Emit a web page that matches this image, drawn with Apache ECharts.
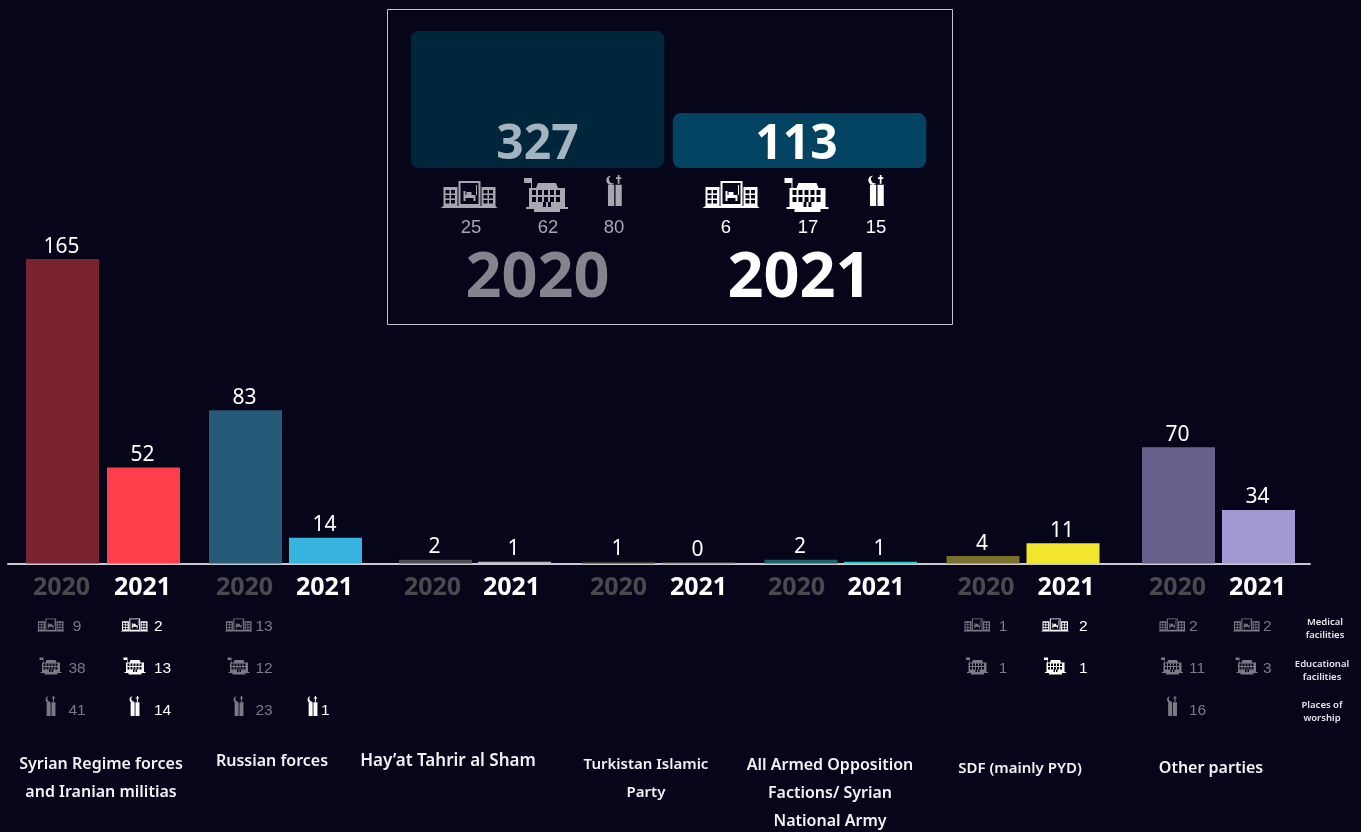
<!DOCTYPE html>
<html>
<head>
<meta charset="utf-8">
<title>Attacks on vital civilian facilities</title>
<style>
  html, body { margin: 0; padding: 0; background: #06051a; }
  #chart { width: 1361px; height: 832px; }
</style>
<script src="https://cdn.jsdelivr.net/npm/echarts@6/dist/echarts.min.js"></script>
</head>
<body>
<div id="chart"></div>
<script>
// ---- data ----
const years = ["2020", "2021"];
const categories = [
  "Syrian Regime forces\nand Iranian militias",
  "Russian forces",
  "Hay\u2019at Tahrir al Sham",
  "Turkistan Islamic\nParty",
  "All Armed Opposition\nFactions/ Syrian\nNational Army",
  "SDF (mainly PYD)",
  "Other parties"
];
const rowNames = ["Medical\nfacilities", "Educational\nfacilities", "Places of\nworship"];

const values2020 = [165, 83, 2, 1, 2, 4, 70];
const values2021 = [52, 14, 1, 0, 1, 11, 34];
// the source draws these bars shorter than their printed number, so heights are kept apart from labels
const barHeights2020 = [165, 83, 2, 1, 2, 4, 63];
const barHeights2021 = [52, 14, 1, 0, 1, 11, 29];

const medical2020 = [9, 13, null, null, null, 1, 2];
const medical2021 = [2, null, null, null, null, 2, 2];
const educational2020 = [38, 12, null, null, null, 1, 11];
const educational2021 = [13, null, null, null, null, 1, 3];
const worship2020 = [41, 23, null, null, null, null, 16];
const worship2021 = [14, 1, null, null, null, null, null];

const totals = [327, 113];
const totalBarHeights = [327, 131];
const totalMedical = [25, 6];
const totalEducational = [62, 17];
const totalWorship = [80, 15];

// ---- layout and colours ----
const bg = "#06051a";
const dimText = "#7b7a84";
const yearGrey = "#4a4a4e";
const barColors = [
  ["#7a2330", "#fd3f4c"],
  ["#255a78", "#37b3df"],
  ["#4d4c52", "#b9b8bd"],
  ["#3c332f", "#7f6c5b"],
  ["#1b6468", "#2cc6c6"],
  ["#78702c", "#f2e52e"],
  ["#68608a", "#a498d3"]
];
const groupCenters = [
  [62.5, 143.5], [245.5, 325.5], [435.5, 514.5], [618.5, 698.5],
  [801, 880.5], [983, 1063], [1178.5, 1258.5]
];
// year labels do not sit quite under their bars in the source
const yearLabelShift = [-1, -1, -3, 0, -4.5, 3, -1];
const titleSpots = [[101, 750.5], [272, 747.5], [448, 747.5], [646, 750.5], [830, 751.5], [1020, 754.5], [1211, 754.5]];
const titleSizes = [16, 16, 17, 15, 16, 15, 16];
// per group and year: icon offset, text offset, text align
const cellOffsets = [
  [[-12, 14.5, "center"], [-9, 10.5, "left"]],
  [[-7, 10, "left"], [-13, -4.5, "left"]],
  [[0, 0, "left"], [0, 0, "left"]],
  [[0, 0, "left"], [0, 0, "left"]],
  [[0, 0, "left"], [0, 0, "left"]],
  [[-6, 20, "center"], [-8, 16, "left"]],
  [[-6.5, 10.5, "left"], [-12, 4.5, "left"]]
];

// small icon paths, holes are wound the other way
const box = (x, y, w, h) => `M${x} ${y}h${w}v${h}h${-w}z`;
const hole = (x, y, w, h) => `M${x} ${y}v${h}h${w}v${-h}z`;
function windows(x, y, cols, rows, w, h, gap) {
  let d = "";
  for (let c = 0; c < cols; c++) {
    for (let r = 0; r < rows; r++) {
      d += hole(x + c * (w + gap), y + r * (h + gap), w, h);
    }
  }
  return d;
}
const medicalIcon =
  box(3, 6, 14, 19) + windows(5, 9, 2, 3, 4, 3.5, 1.5) +
  box(41, 6, 14, 19) + windows(43, 9, 2, 3, 4, 3.5, 1.5) +
  box(18, 0, 22, 25) + hole(20, 2, 18, 21) +
  box(23, 14, 12, 3) + box(23, 10, 2, 10) + box(33, 14, 2, 6) + box(26, 11, 5, 3) + box(35.5, 4, 1, 10) +
  "M0 27L3 25L55 25L57 27z";
const educationIcon =
  box(0, 0, 7, 5) + box(7, 0, 1, 11) +
  "M14 5L32 5L34 10L12 10z" +
  box(5, 10, 36, 19) + windows(8, 12, 5, 2, 4, 5, 2) + hole(19, 24, 8, 5) + box(22, 24, 2, 5) +
  box(2, 29, 42, 2) + box(10, 31, 26, 3);
const worshipIcon =
  box(0, 11, 7, 24) + box(8.5, 11, 7, 24) +
  box(11, 0, 2, 10) + box(9, 2.5, 6, 2) +
  "M4 1A5 5 0 1 0 7 9A4 4 0 1 1 4 1z";
const icons = [
  { path: medicalIcon, w: 57, h: 27 },
  { path: educationIcon, w: 45, h: 34 },
  { path: worshipIcon, w: 15.5, h: 35 }
];

// ---- option pieces ----
const grids = [];
const xAxes = [];
const yAxes = [];
const series = [];
const titles = [];

function addAxes(grid, x, y) {
  grids.push(grid);
  xAxes.push(Object.assign({ gridIndex: grids.length - 1 }, x));
  yAxes.push(Object.assign({ gridIndex: grids.length - 1 }, y));
  return grids.length - 1;
}

// baseline running under all groups
addAxes(
  { left: 8, width: 1302, top: 194.5, height: 369 },
  {
    type: "value", min: 0, max: 1,
    axisLine: { show: true, onZero: false, lineStyle: { color: "#c9c9cf", width: 2 } },
    axisTick: { show: false }, axisLabel: { show: false }, splitLine: { show: false }
  },
  { type: "value", min: 0, max: 1, show: false }
);

function yearLabelColor(value) {
  return value === "2020" ? yearGrey : "#ffffff";
}

categories.forEach((name, g) => {
  const c = groupCenters[g];
  const step = c[1] - c[0];
  const shift = yearLabelShift[g];
  const barGrid = addAxes(
    { left: c[0] - step / 2, width: step * 2, top: 194.5, height: 369 },
    {
      type: "category", data: years,
      axisLine: { show: false }, axisTick: { show: false },
      axisLabel: {
        margin: 12, fontFamily: "Noto Sans", fontWeight: "bold", fontSize: 25, color: yearLabelColor,
        padding: shift < 0 ? [0, -2 * shift, 0, 0] : [0, 0, 0, 2 * shift]
      }
    },
    { type: "value", min: 0, max: 200, show: false }
  );
  const printed = [values2020[g], values2021[g]];
  series.push({
    type: "bar",
    xAxisIndex: barGrid,
    yAxisIndex: barGrid,
    barWidth: 73,
    barMinHeight: 1,
    data: [barHeights2020[g], barHeights2021[g]],
    itemStyle: { color: (p) => barColors[g][p.dataIndex] },
    label: {
      show: true,
      position: "top",
      distance: 2,
      offset: [-1, 0],
      color: "#ffffff",
      fontFamily: "Noto Sans",
      fontSize: 21,
      formatter: (p) => String(printed[p.dataIndex])
    }
  });

  // icon and count rows under the bars
  const tableGrid = addAxes(
    { left: c[0] - step / 2, width: step * 2, top: 605, height: 126 },
    { type: "category", data: years, show: false },
    { type: "category", data: [0, 1, 2], inverse: true, show: false }
  );
  const rows = [
    [medical2020[g], medical2021[g]],
    [educational2020[g], educational2021[g]],
    [worship2020[g], worship2021[g]]
  ];
  const cells = [];
  rows.forEach((r, rowIndex) => {
    r.forEach((v, yearIndex) => {
      if (v !== null) cells.push([yearIndex, rowIndex, v]);
    });
  });
  series.push({
    type: "custom",
    xAxisIndex: tableGrid,
    yAxisIndex: tableGrid,
    clip: false,
    silent: true,
    data: cells,
    renderItem: (params, api) => {
      const year = api.value(0);
      const row = api.value(1);
      const p = api.coord([year, row]);
      const off = cellOffsets[g][year];
      // other parties 2021 is greyed out in the source
      const col = year === 1 && g !== 6 ? "#ffffff" : dimText;
      const icon = icons[row];
      const k = row === 0 ? 0.49 : row === 1 ? 0.5 : 0.64;
      const rowLift = [-1, -2, -4][row];
      return {
        type: "group",
        children: [
          {
            type: "path",
            shape: {
              pathData: icon.path,
              layout: "center",
              x: p[0] + off[0] - (icon.w * k) / 2,
              y: p[1] + rowLift - (icon.h * k) / 2,
              width: icon.w * k,
              height: icon.h * k
            },
            style: { fill: col }
          },
          {
            type: "text",
            style: {
              text: String(api.value(2)),
              x: p[0] + off[1],
              y: p[1] + 1,
              fill: col,
              font: "15.5px 'Liberation Sans'",
              textAlign: off[2],
              textVerticalAlign: "middle"
            }
          }
        ]
      };
    }
  });

  titles.push({
    text: name,
    left: titleSpots[g][0],
    top: titleSpots[g][1],
    textAlign: "center",
    padding: 0,
    textStyle: {
      color: "#f2f2f4", fontFamily: "Noto Sans", fontWeight: 600, fontSize: titleSizes[g], lineHeight: 28
    }
  });
});

// row names at the right
rowNames.forEach((name, i) => {
  titles.push({
    text: name,
    left: i === 0 ? 1325 : 1322,
    top: 616 + i * 41.5,
    textAlign: "center",
    padding: 0,
    textStyle: {
      color: "#e6e6ea", fontFamily: "Noto Sans", fontWeight: 600, fontSize: 9.5, lineHeight: 13
    }
  });
});

// totals panel
const panelGrid = addAxes(
  { left: 406.5, width: 524, top: 31, height: 137 },
  {
    type: "category", data: years,
    axisLine: { show: false }, axisTick: { show: false },
    axisLabel: {
      margin: 80, fontFamily: "Noto Sans", fontWeight: "bold", fontSize: 63,
      color: (v) => (v === "2020" ? "#85848e" : "#ffffff")
    }
  },
  { type: "value", min: 0, max: 327, show: false }
);
const totalColors = ["#00263c", "#034362"];
const totalTextColors = ["#a3b3bf", "#ffffff"];
const totalLabelDx = [0, -3];
series.push({
  type: "bar",
  xAxisIndex: panelGrid,
  yAxisIndex: panelGrid,
  barWidth: 253.5,
  data: totalBarHeights.map((v, i) => ({
    value: v,
    itemStyle: { color: totalColors[i] },
    label: { color: totalTextColors[i], offset: [totalLabelDx[i], 1] }
  })),
  itemStyle: { borderRadius: 8 },
  label: {
    show: true,
    position: "insideBottom",
    distance: 0,
    fontFamily: "Noto Sans",
    fontWeight: "bold",
    fontSize: 48,
    formatter: (p) => String(totals[p.dataIndex])
  }
});

const panelIconDx = [[-68.5, 8.5, 76.5], [-68.5, 7, 76.5]];
const panelIconBottom = [40, 44, 40];
const panelTextDx = [[-66.5, 10.5, 76.5], [-73.5, 8.5, 76.5]];
const panelCells = [];
[totalMedical, totalEducational, totalWorship].forEach((arr, kind) => {
  arr.forEach((v, yearIndex) => panelCells.push([yearIndex, kind, v]));
});
series.push({
  type: "custom",
  xAxisIndex: panelGrid,
  yAxisIndex: panelGrid,
  clip: false,
  silent: true,
  data: panelCells,
  renderItem: (params, api) => {
    const year = api.value(0);
    const kind = api.value(1);
    const p = api.coord([year, 0]);
    const col = year === 0 ? "#a8a7af" : "#ffffff";
    const icon = icons[kind];
    return {
      type: "group",
      children: [
        {
          type: "path",
          shape: {
            pathData: icon.path,
            layout: "center",
            x: p[0] + panelIconDx[year][kind] - icon.w / 2,
            y: p[1] + panelIconBottom[kind] - icon.h,
            width: icon.w,
            height: icon.h
          },
          style: { fill: col }
        },
        {
          type: "text",
          style: {
            text: String(api.value(2)),
            x: p[0] + panelTextDx[year][kind],
            y: p[1] + 60,
            fill: col,
            font: "18.5px 'Liberation Sans'",
            textAlign: "center",
            textVerticalAlign: "middle"
          }
        }
      ]
    };
  }
});

const chart = echarts.init(document.getElementById("chart"), null, { renderer: "canvas" });
chart.setOption({
  animation: false,
  backgroundColor: bg,
  title: titles,
  grid: grids,
  xAxis: xAxes,
  yAxis: yAxes,
  series: series,
  graphic: [
    {
      type: "rect",
      shape: { x: 387.5, y: 9.5, width: 565, height: 315 },
      style: { fill: "transparent", stroke: "#c4c4cc", lineWidth: 1 },
      silent: true
    }
  ]
});
</script>
</body>
</html>
